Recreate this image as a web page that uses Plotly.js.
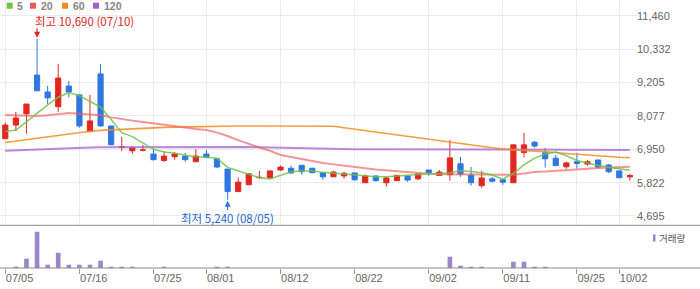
<!DOCTYPE html>
<html><head><meta charset="utf-8">
<script src="https://cdn.plot.ly/plotly-3.0.1.min.js"></script>
<style>html,body{margin:0;padding:0;background:#fff}#chart{width:700px;height:289px}</style>
</head><body><div id="chart"></div>
<script>
const dates = ['07/05','07/08','07/09','07/10','07/11','07/12','07/15','07/16','07/17','07/18',
  '07/19','07/22','07/23','07/24','07/25','07/26','07/29','07/30','07/31','08/01',
  '08/02','08/05','08/06','08/07','08/08','08/09','08/12','08/13','08/14','08/16',
  '08/19','08/20','08/21','08/22','08/23','08/26','08/27','08/28','08/29','08/30',
  '09/02','09/03','09/04','09/05','09/06','09/09','09/10','09/11','09/12','09/13',
  '09/19','09/20','09/23','09/24','09/25','09/26','09/27','09/30','10/02','10/04'];
const openP = [7310,7770,8150,9460,8890,8390,9090,8790,7550,9500,
  7740,7010,6900,6920,6790,6570,6700,6720,6530,6790,
  6630,6280,5520,5750,5990,5990,6250,6310,6410,6310,
  6160,6020,6050,6150,5820,6050,5820,5890,6050,5950,
  6250,6070,6090,6460,6080,5720,5950,5920,5820,6840,
  7190,6830,6650,6360,6530,6450,6590,6420,6220,6020];
const highP = [7860,8210,8480,10690,9090,9840,9260,8820,8790,9840,
  7740,7370,7060,7100,6950,6890,6860,6830,6960,6930,
  6630,6280,6000,6150,6220,6220,6400,6390,6410,6310,
  6160,6220,6190,6150,6100,6050,6010,6080,6050,6140,
  6250,6250,7270,6690,6350,6220,6020,5920,7100,7500,
  7230,7000,6760,6530,6830,6590,6590,6450,6220,6120];
const lowP = [7310,7570,7480,8930,8480,8220,8710,7680,7550,7720,
  7100,6900,6800,6880,6570,6530,6600,6530,6530,6670,
  6320,5240,5520,5750,5960,5990,6230,6120,6090,6160,
  5920,6020,5960,5890,5820,5860,5690,5880,5850,5910,
  6050,6070,5890,6020,5720,5650,5840,5750,5820,6670,
  7000,6330,6400,6290,6300,6400,6300,6140,5990,5890];
const closeP = [7770,8010,8480,8930,8690,9360,8890,7740,7910,7740,
  7100,7030,7000,6930,6600,6720,6790,6600,6720,6670,
  6350,5520,5840,6120,6000,6220,6350,6150,6190,6160,
  6020,6180,6140,5920,6050,5890,5980,6070,5910,6120,
  6160,6180,6660,6110,5820,5980,5870,5840,7100,7100,
  7060,6630,6400,6490,6470,6530,6350,6190,5990,6060];
const volume = [10000,130000,930000,3630000,330000,1530000,330000,330000,330000,730000,
  130000,130000,130000,10000,10000,130000,10000,10000,10000,10000,
  130000,130000,10000,10000,10000,10000,10000,10000,10000,10000,
  10000,10000,10000,10000,10000,10000,10000,10000,10000,10000,
  10000,10000,1130000,230000,130000,130000,10000,10000,630000,630000,
  130000,130000,10000,10000,10000,10000,10000,10000,10000,10000];
const ma5 = [7550,7600,7880,8170,8450,8710,8870,8760,8580,8380,
  7960,7510,7380,7170,6950,6860,6820,6750,6700,6680,
  6650,6340,6220,6110,5990,5950,6080,6190,6220,6220,
  6170,6140,6110,6080,6060,6020,6020,6050,6070,6090,
  6120,6130,6160,6230,6190,6160,6080,5940,6140,6420,
  6650,6790,6860,6730,6570,6480,6400,6340,6290,6240];
const ma20 = [8110,8100,8090,8077,8100,8150,8179,8150,8130,8100,
  8030,7966,7920,7870,7830,7780,7730,7690,7640,7604,
  7513,7400,7260,7130,7010,6900,6758,6690,6620,6550,
  6490,6440,6390,6350,6310,6270,6240,6200,6170,6145,
  6120,6110,6105,6105,6100,6090,6085,6082,6090,6130,
  6180,6200,6230,6250,6270,6295,6320,6340,6355,6363];
const ma60 = [7180,7230,7270,7320,7370,7420,7470,7526,7560,7590,
  7610,7630,7650,7660,7670,7690,7700,7710,7716,7720,
  7725,7730,7739,7739,7739,7739,7739,7739,7739,7739,
  7739,7730,7680,7630,7575,7530,7480,7430,7390,7340,
  7290,7240,7190,7130,7080,7040,7000,6960,6940,6910,
  6895,6870,6840,6810,6780,6750,6720,6700,6680,6667];
const ma120 = [6904,6920,6935,6950,6965,6980,6995,7005,7015,7018,
  7020,7022,7025,7027,7030,7032,7034,7036,7038,7040,
  7040,7040,7035,7030,7020,7010,7000,6990,6980,6972,
  6965,6960,6955,6952,6950,6950,6950,6950,6950,6950,
  6950,6950,6950,6950,6950,6948,6945,6940,6935,6930,
  6930,6930,6930,6930,6930,6930,6930,6930,6930,6930];
const priceTicks = [4695,5822,6950,8077,9205,10332,11460];
const dateTicks = ['07/05','07/16','07/25','08/01','08/12','08/22','09/02','09/11','09/25','10/02'];
const maNames = ['5','20','60','120'];

const RED = '#e2271f', BLUE = '#2f77e0';
const maColors = ['#6cc24a','#ee5a5a','#f78a1d','#a35fd2'];

function maTrace(y, color, width, op){
  return {type:'scatter', mode:'lines', x:dates, y:y, xaxis:'x', yaxis:'y',
    line:{color:color, width:width, shape:'linear'}, opacity:op, hoverinfo:'skip', showlegend:false};
}
const traces = [
  maTrace(ma120, maColors[3], 2, 0.75),
  maTrace(ma60, maColors[2], 1.6, 0.85),
  maTrace(ma20, maColors[1], 2, 0.65),
  maTrace(ma5, maColors[0], 1.5, 0.85),
  {type:'candlestick', x:dates, open:openP, high:highP, low:lowP, close:closeP,
   xaxis:'x', yaxis:'y', whiskerwidth:0, hoverinfo:'skip', showlegend:false,
   increasing:{line:{color:RED, width:1}, fillcolor:RED},
   decreasing:{line:{color:BLUE, width:1}, fillcolor:BLUE}},
  {type:'bar', x:dates, y:volume, xaxis:'x2', yaxis:'y2', width:0.44,
   marker:{color:'#9b86c9', line:{width:0}}, hoverinfo:'skip', showlegend:false}
];

let iMax = 0, iMin = 0;
highP.forEach((v,i)=>{ if (v > highP[iMax]) iMax = i; });
lowP.forEach((v,i)=>{ if (v < lowP[iMin]) iMin = i; });
const fmt = v => v.toLocaleString('en-US');

const PW = 636, PH = 268;
const px = x => x / PW, py = y => 1 - y / PH;
const shapes = [
  {type:'line', xref:'paper', yref:'paper', x0:0, x1:700/PW, y0:py(225.3), y1:py(225.3), line:{color:'#8c8c8c', width:1}},
  {type:'line', xref:'paper', yref:'paper', x0:0, x1:700/PW, y0:0, y1:0, line:{color:'#8c8c8c', width:1}},
  {type:'rect', xref:'paper', yref:'paper', x0:px(653), x1:px(655.5), y0:py(241.5), y1:py(234.3), line:{width:0}, fillcolor:'#9b86c9'}
];
const legX = [6.7, 30, 62, 93];
const annotations = [];
maNames.forEach((n,k)=>{
  shapes.push({type:'rect', xref:'paper', yref:'paper', x0:px(legX[k]), x1:px(legX[k]+6), y0:py(8.7), y1:py(2.7), line:{width:0}, fillcolor:maColors[k]});
  annotations.push({xref:'paper', yref:'paper', x:px(legX[k]+8.5), y:py(6), xanchor:'left', yanchor:'middle', showarrow:false,
    text:n, font:{family:'Liberation Sans, sans-serif', size:10.5, weight:700, color:'#858585'}});
});
annotations.push(
  {xref:'paper', yref:'paper', x:px(657), y:py(238), xanchor:'left', yanchor:'middle', showarrow:false,
   text:'거래량', font:{family:'Noto Sans CJK KR, sans-serif', size:9.5, color:'#555'}},
  {x:iMax, y:highP[iMax], xref:'x', yref:'y', text:'', showarrow:true, ax:0, ay:-12, arrowhead:2, arrowsize:1, arrowwidth:1.2, arrowcolor:RED, standoff:1},
  {x:iMax, y:highP[iMax], xref:'x', yref:'y', showarrow:false, xanchor:'left', yanchor:'middle', xshift:-4, yshift:18,
   text:'최고 ' + fmt(highP[iMax]) + ' (' + dates[iMax] + ')', font:{family:'Noto Sans CJK KR, sans-serif', size:11.5, color:RED}},
  {x:iMin, y:lowP[iMin], xref:'x', yref:'y', text:'', showarrow:true, ax:0, ay:12, arrowhead:2, arrowsize:1, arrowwidth:1.2, arrowcolor:BLUE, standoff:1},
  {x:iMin, y:lowP[iMin], xref:'x', yref:'y', showarrow:false, xanchor:'center', yanchor:'middle', yshift:-18,
   text:'최저 ' + fmt(lowP[iMin]) + ' (' + dates[iMin] + ')', font:{family:'Noto Sans CJK KR, sans-serif', size:11.5, color:'#1f66d1'}}
);

const xr = [-0.5, 59.58];
const layout = {
  width:700, height:289, margin:{l:0, r:64, t:0, b:21, pad:0},
  paper_bgcolor:'#fff', plot_bgcolor:'#fff', showlegend:false, dragmode:false,
  font:{family:'Liberation Sans, Noto Sans CJK KR, sans-serif', size:11, color:'#666'},
  xaxis:{type:'category', range:xr, anchor:'y', tickmode:'array', tickvals:dateTicks, showticklabels:false,
    showgrid:true, gridcolor:'#ebebeb', gridwidth:1, ticks:'', zeroline:false, showline:false,
    rangeslider:{visible:false}, fixedrange:true},
  xaxis2:{type:'category', range:xr, anchor:'y2', tickmode:'array', tickvals:dateTicks, ticks:'outside', ticklen:5,
    tickcolor:'#999', tickwidth:1, ticklabelposition:'outside right', showgrid:false, showline:false, zeroline:false,
    tickfont:{family:'Liberation Sans, sans-serif', size:11, color:'#666'}, fixedrange:true},
  yaxis:{domain:[1-225.3/PH, 1], range:[4380, 11999], side:'right', anchor:'x', tickmode:'array', tickvals:priceTicks,
    tickformat:',d', showgrid:true, gridcolor:'#ebebeb', gridwidth:1, zeroline:false, ticks:'', showline:false,
    tickfont:{family:'Liberation Sans, sans-serif', size:11, color:'#666'}, fixedrange:true},
  yaxis2:{domain:[0, 1-225.3/PH], range:[0, 4270000], anchor:'x2', showticklabels:false, showgrid:false,
    zeroline:false, ticks:'', fixedrange:true},
  shapes:shapes, annotations:annotations
};
Plotly.newPlot('chart', traces, layout, {displayModeBar:false, staticPlot:true});
</script></body></html>
